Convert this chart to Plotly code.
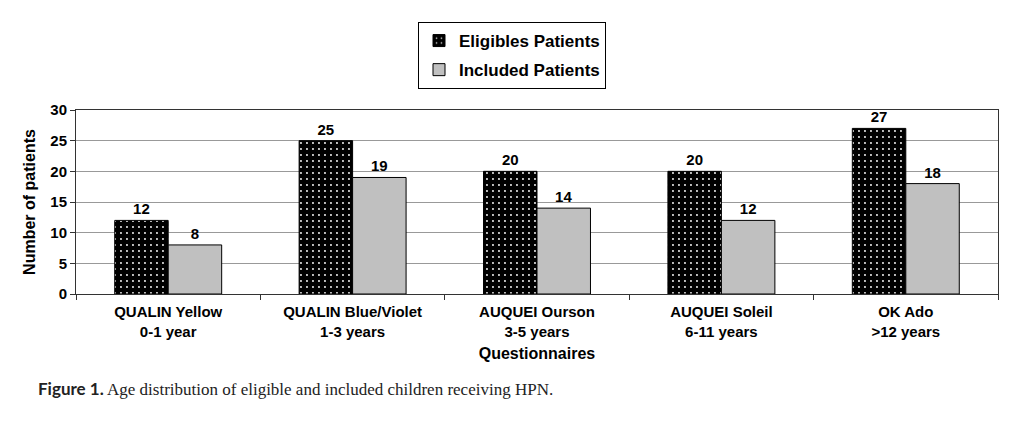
import plotly.graph_objects as go

categories = ["QUALIN Yellow<br>0-1 year", "QUALIN Blue/Violet<br>1-3 years",
              "AUQUEI Ourson<br>3-5 years", "AUQUEI Soleil<br>6-11 years",
              "OK Ado<br>>12 years"]
eligible = [12, 25, 20, 20, 27]
included = [8, 19, 14, 12, 18]

FAM = "Arial, Liberation Sans, sans-serif"
label_font = dict(family=FAM, size=15, color="black", weight="bold")

fig = go.Figure()
fig.add_trace(go.Bar(
    name="Eligibles Patients", x=categories, y=eligible,
    legendgroup="a",
    marker=dict(color="black", line=dict(color="black", width=1),
                pattern=dict(shape=".", fgcolor="white", bgcolor="black",
                             size=6, solidity=0.08, fillmode="replace")),
    text=[str(v) for v in eligible], textposition="outside",
    textfont=label_font, cliponaxis=False,
))
fig.add_trace(go.Bar(
    name="Included Patients", x=categories, y=included,
    legendgroup="b",
    marker=dict(color="#c0c0c0", line=dict(color="black", width=1)),
    text=[str(v) for v in included], textposition="outside",
    textfont=label_font, cliponaxis=False,
))

# page body has an 8px margin, so the figure is offset by 8px
fig.update_layout(
    width=1016, height=413,
    margin=dict(l=68, r=26, t=102, b=127),
    paper_bgcolor="white", plot_bgcolor="white",
    barmode="group", bargap=0.42, bargroupgap=0,
    font=dict(family=FAM, color="black"),
    showlegend=True,
    legend=dict(x=(418 - 76) / 922, y=1 + 88 / 184, xanchor="left", yanchor="top",
                bordercolor="black", borderwidth=1, bgcolor="white",
                font=dict(size=17, color="black", weight="bold"),
                traceorder="grouped", tracegroupgap=4),
    xaxis=dict(
        title=dict(text="Questionnaires", font=dict(size=16, weight="bold"), standoff=9),
        tickfont=dict(family=FAM, size=15, color="black", weight="bold"),
        ticklabelstandoff=4,
        showline=True, linecolor="#333", mirror=True,
        ticks="outside", tickson="boundaries", ticklen=5, tickcolor="#333",
    ),
    yaxis=dict(
        title=dict(text="Number of patients", font=dict(size=16, weight="bold"), standoff=10),
        range=[0, 30], dtick=5,
        tickfont=dict(family=FAM, size=15, color="black", weight="bold"),
        tickformat="d",
        showline=True, linecolor="#333", mirror=True,
        showgrid=True, gridcolor="#999", gridwidth=1,
        ticks="outside", ticklen=5, tickcolor="#333", zeroline=False,
    ),
    annotations=[dict(
        xref="paper", yref="paper", x=(36 - 76) / 922, y=-94 / 184,
        xanchor="left", yanchor="middle", showarrow=False,
        text="<span style='font-family:Lato, Open Sans, sans-serif'><b>Figure 1.</b></span> Age distribution of eligible and included children receiving HPN.",
        font=dict(family="Liberation Serif, DejaVu Serif, serif", size=17, color="#222"),
    )],
)

fig.write_html("out.html")
